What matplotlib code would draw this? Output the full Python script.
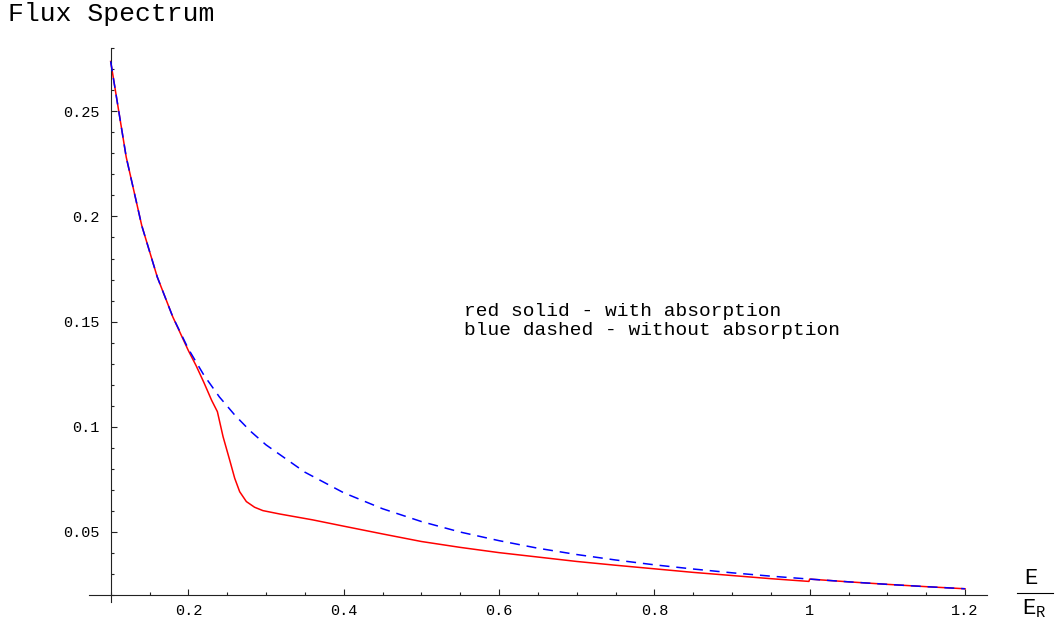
import numpy as np
import matplotlib
matplotlib.use("Agg")
import matplotlib.pyplot as plt
from matplotlib.ticker import FixedLocator

plt.rcParams['font.family'] = ['Liberation Mono', 'DejaVu Sans Mono']
plt.rcParams['mathtext.fontset'] = 'custom'
plt.rcParams['mathtext.rm'] = 'Liberation Mono'

# values
x_red = [0.1, 0.12, 0.14, 0.16, 0.18, 0.19, 0.2, 0.21, 0.22, 0.23, 0.2374,
         0.2447, 0.2532, 0.2597, 0.2661, 0.2747, 0.2853, 0.296, 0.3175, 0.36,
         0.4, 0.45, 0.5, 0.55, 0.6, 0.65, 0.7, 0.75, 0.8, 0.85, 0.9, 0.95,
         0.999, 1.0, 1.05, 1.1, 1.15, 1.2]
y_red = [0.2738, 0.2283, 0.1957, 0.1712, 0.1522, 0.1442, 0.1362, 0.1290, 0.1210, 0.1125, 0.1071,
         0.0952, 0.0841, 0.0754, 0.0690, 0.0643, 0.0616, 0.0600, 0.0584, 0.0556,
         0.0526, 0.0489, 0.0453, 0.0425, 0.0400, 0.0379, 0.0358, 0.0340, 0.0323, 0.0306, 0.0291, 0.0276,
         0.0263, 0.0274, 0.0261, 0.0249, 0.0238, 0.0228]

x_blue = [0.1, 0.12, 0.14, 0.16, 0.18, 0.2, 0.22, 0.24, 0.26, 0.28, 0.3, 0.35,
          0.4, 0.45, 0.5, 0.55, 0.6, 0.65, 0.7, 0.75, 0.8, 0.85, 0.9, 0.95,
          1.0, 1.05, 1.1, 1.15, 1.2]
y_blue = [0.2738, 0.2283, 0.1957, 0.1712, 0.1522, 0.1370, 0.1245, 0.1141, 0.1054, 0.0978, 0.0913, 0.0783,
          0.0685, 0.0609, 0.0548, 0.0498, 0.0457, 0.0421, 0.0391, 0.0365, 0.0342, 0.0322, 0.0304, 0.0288,
          0.0274, 0.0261, 0.0249, 0.0238, 0.0228]

x_major = [0.2, 0.4, 0.6, 0.8, 1.0, 1.2]
x_labels = ['0.2', '0.4', '0.6', '0.8', '1', '1.2']
y_major = [0.05, 0.1, 0.15, 0.2, 0.25]
y_labels = ['0.05', '0.1', '0.15', '0.2', '0.25']

W, H = 1055, 624
fig = plt.figure(figsize=(W / 100, H / 100), dpi=100)
ax = fig.add_axes([89 / W, 1 - 602 / H, 898 / W, 554 / H])

ax.plot(x_red, y_red, color='#ff0000', lw=1.1, zorder=2)
ax.plot(x_blue, y_blue, color='#0000ff', lw=1.1, linestyle=(0, (6.5, 4.5)), zorder=3)

ax.set_xlim(0.0721, 1.2283)
ax.set_ylim(0.0165, 0.2802)

for s in ['top', 'right']:
    ax.spines[s].set_visible(False)
ax.spines['left'].set_position(('data', 0.1))
ax.spines['bottom'].set_position(('data', 0.02))
for s in ['left', 'bottom']:
    ax.spines[s].set_linewidth(0.8)
    ax.spines[s].set_color('#222222')

ax.set_xticks(x_major)
ax.set_xticklabels(x_labels)
ax.set_yticks(y_major)
ax.set_yticklabels(y_labels)
xm = [round(0.1 + 0.05 * i, 2) for i in range(23)]
ax.xaxis.set_minor_locator(FixedLocator([v for v in xm if v not in x_major]))
ym = [round(0.02 + 0.01 * i, 2) for i in range(27)]
ax.yaxis.set_minor_locator(FixedLocator([v for v in ym if v not in y_major]))

ax.tick_params(which='both', direction='in', width=0.8, color='#222222', labelsize=11)
ax.tick_params(which='major', length=4.5)
ax.tick_params(which='minor', length=2.5)
ax.tick_params(axis='x', which='major', pad=7)
ax.tick_params(axis='y', which='major', pad=8)

ax.text(0.555, 0.1546, 'red solid - with absorption', fontsize=14, va='center', ha='left')
ax.text(0.555, 0.1456, 'blue dashed - without absorption', fontsize=14, va='center', ha='left')

fig.text(8 / W, 1 - 14 / H, 'Flux Spectrum', fontsize=19, va='center', ha='left')

# x axis label as a fraction E / E_R
fig.text(1031 / W, 1 - 578 / H, 'E', fontsize=16, va='center', ha='center')
fig.add_artist(plt.Line2D([1017 / W, 1053 / W], [1 - 593 / H, 1 - 593 / H],
                          color='black', lw=0.8))
fig.text(1034 / W, 1 - 609 / H, r'E$_{\mathrm{R}}$', fontsize=16, va='center', ha='center')

fig.savefig('out.png', dpi=100)
